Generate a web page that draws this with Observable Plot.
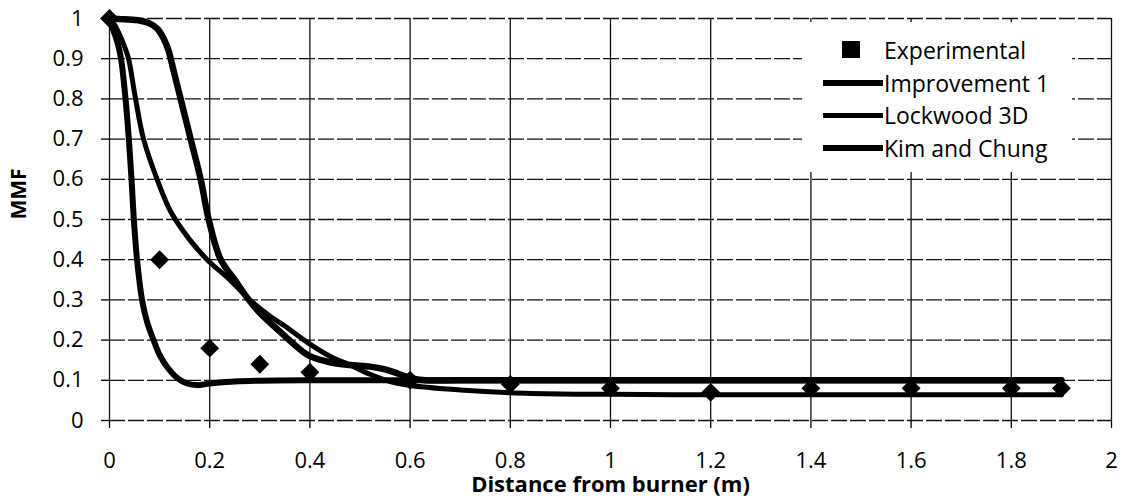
<!DOCTYPE html>
<html>
<head>
<meta charset="utf-8">
<script src="https://cdn.jsdelivr.net/npm/d3@7"></script>
<script src="https://cdn.jsdelivr.net/npm/@observablehq/plot@0.6"></script>
<style>
  html, body { margin: 0; padding: 0; background: #fff; }
  #chart { position: relative; width: 1123px; height: 499px; font-family: "Open Sans", Lato, sans-serif; color: #000; }
  #chart svg { display: block; }
  .legend { position: absolute; left: 802px; top: 22px; width: 270px; height: 150px; background: #fff; }
  .legend .item { position: absolute; left: 0; width: 270px; height: 30px; }
  .legend .swatch-square { position: absolute; left: 40px; top: 6px; width: 18px; height: 17px; background: #000; }
  .legend .swatch-line { position: absolute; left: 21px; width: 60px; background: #000; }
  .legend .label { position: absolute; left: 82px; top: 0; line-height: 30px; font-size: 23px; white-space: nowrap; }
</style>
</head>
<body>
<div id="chart"></div>
<script>
// Axis ticks
const xTicks = [0, 0.2, 0.4, 0.6, 0.8, 1, 1.2, 1.4, 1.6, 1.8, 2];
const yTicks = [0, 0.1, 0.2, 0.3, 0.4, 0.5, 0.6, 0.7, 0.8, 0.9, 1];

// Measured mixture fraction
const expX = [0, 0.1, 0.2, 0.3, 0.4, 0.6, 0.8, 1.0, 1.2, 1.4, 1.6, 1.8, 1.9];
const expY = [1, 0.4, 0.18, 0.14, 0.12, 0.1, 0.09, 0.08, 0.07, 0.08, 0.08, 0.08, 0.08];

// Improvement 1 model
const impX = [0, 0.008, 0.016, 0.023, 0.032, 0.0386, 0.044, 0.0486, 0.055, 0.065, 0.075, 0.088, 0.1, 0.115, 0.135, 0.155, 0.175, 0.2, 0.25, 0.3, 0.4, 0.6, 1.0, 1.4, 1.9];
const impY = [1, 0.97, 0.94, 0.9, 0.8, 0.7, 0.6, 0.5, 0.4, 0.3, 0.245, 0.2, 0.163, 0.133, 0.106, 0.092, 0.088, 0.092, 0.097, 0.099, 0.1, 0.1, 0.1, 0.1, 0.1];

// Lockwood 3D model
const lockX = [0, 0.01, 0.02, 0.03, 0.038, 0.052, 0.068, 0.095, 0.122, 0.16, 0.195, 0.24, 0.28, 0.32, 0.35, 0.4, 0.44, 0.48, 0.52, 0.56, 0.6, 0.7, 0.8, 0.9, 1.0, 1.2, 1.4, 1.6, 1.8, 1.9];
const lockY = [1, 0.985, 0.96, 0.93, 0.9, 0.8, 0.7, 0.6, 0.52, 0.45, 0.4, 0.35, 0.3, 0.26, 0.235, 0.19, 0.16, 0.138, 0.115, 0.097, 0.087, 0.076, 0.069, 0.066, 0.065, 0.064, 0.064, 0.064, 0.064, 0.064];

// Kim and Chung model
const kimX = [0, 0.03, 0.06, 0.08, 0.095, 0.108, 0.118, 0.126, 0.142, 0.162, 0.182, 0.198, 0.222, 0.25, 0.275, 0.3, 0.35, 0.381, 0.4, 0.44, 0.48, 0.52, 0.55, 0.575, 0.6, 0.63, 0.7, 1.0, 1.4, 1.9];
const kimY = [1, 0.998, 0.995, 0.988, 0.975, 0.95, 0.92, 0.88, 0.8, 0.7, 0.6, 0.5, 0.4, 0.35, 0.305, 0.268, 0.21, 0.176, 0.16, 0.145, 0.138, 0.134, 0.127, 0.117, 0.106, 0.1, 0.1, 0.1, 0.1, 0.1];

const legendItems = ["Experimental", "Improvement 1", "Lockwood 3D", "Kim and Chung"];

const toPoints = (xs, ys) => xs.map((x, i) => ({x, y: ys[i]}));
const experimental = toPoints(expX, expY);
const improvement = toPoints(impX, impY);
const lockwood = toPoints(lockX, lockY);
const kim = toPoints(kimX, kimY);

const font = "'Open Sans', Lato, sans-serif";

const chart = Plot.plot({
  width: 1123,
  height: 499,
  marginLeft: 109,
  marginRight: 12,
  marginTop: 18,
  marginBottom: 79,
  x: {domain: [0, 2]},
  y: {domain: [0, 1]},
  style: {fontFamily: font, fontSize: "22px", color: "#000", background: "#fff"},
  marks: [
    Plot.gridY(yTicks, {stroke: "#111", strokeOpacity: 1, strokeWidth: 1.3, strokeDasharray: "16,3"}),
    Plot.gridX(xTicks, {stroke: "#111", strokeOpacity: 1, strokeWidth: 1.3}),
    // tick marks only; labels are drawn as text marks below
    Plot.axisX(xTicks, {tickSize: 8, label: null, tickFormat: () => "", strokeWidth: 1.3}),
    Plot.axisY(yTicks, {tickSize: 8, label: null, tickFormat: () => "", strokeWidth: 1.3}),
    Plot.text(xTicks, {x: d => d, frameAnchor: "bottom", dy: 32, lineAnchor: "top", text: d => String(d), fontSize: 22, fill: "#000"}),
    Plot.text(yTicks, {y: d => d, frameAnchor: "left", dx: -26, textAnchor: "end", text: d => String(d), fontSize: 22, fill: "#000"}),
    Plot.line(lockwood, {x: "x", y: "y", stroke: "#000", strokeWidth: 5, curve: "catmull-rom"}),
    Plot.line(kim, {x: "x", y: "y", stroke: "#000", strokeWidth: 6.5, curve: "catmull-rom"}),
    Plot.line(improvement, {x: "x", y: "y", stroke: "#000", strokeWidth: 6, curve: "catmull-rom"}),
    Plot.dot(experimental, {x: "x", y: "y", symbol: "diamond2", r: 8.5, fill: "#000", stroke: "none"}),
    Plot.text(["Distance from burner (m)"], {frameAnchor: "bottom", dy: 56, lineAnchor: "top", fontWeight: "bold", fontSize: 22}),
    Plot.text(["MMF"], {frameAnchor: "left", dx: -90, rotate: -90, fontWeight: "bold", fontSize: 21})
  ]
});

const root = document.getElementById("chart");
root.appendChild(chart);

// Legend box drawn over the upper-right corner of the plot area
const legend = document.createElement("div");
legend.className = "legend";
const rowTops = [13, 46, 78, 111];
const lineWidths = [null, 6, 5, 6.5];
legendItems.forEach((name, i) => {
  const item = document.createElement("div");
  item.className = "item";
  item.style.top = rowTops[i] + "px";
  const sw = document.createElement("div");
  if (i === 0) {
    sw.className = "swatch-square";
  } else {
    sw.className = "swatch-line";
    sw.style.height = lineWidths[i] + "px";
    sw.style.top = (15 - lineWidths[i] / 2) + "px";
  }
  const lab = document.createElement("div");
  lab.className = "label";
  lab.textContent = name;
  item.appendChild(sw);
  item.appendChild(lab);
  legend.appendChild(item);
});
root.appendChild(legend);
</script>
</body>
</html>
